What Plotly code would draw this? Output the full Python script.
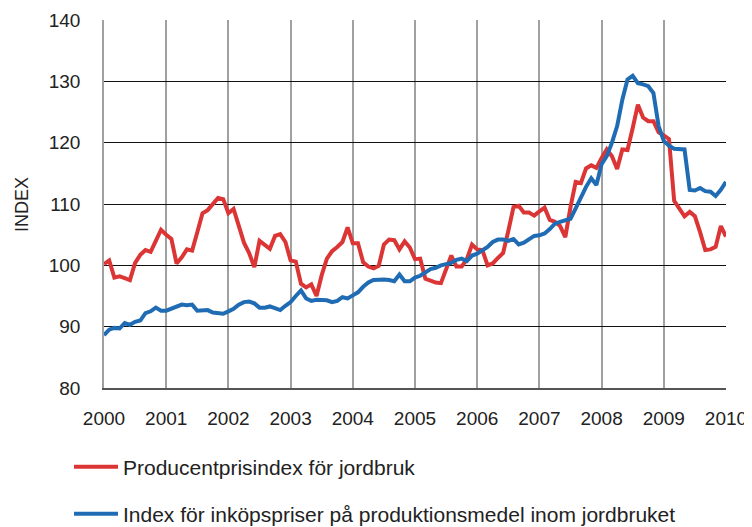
import plotly.graph_objects as go

# Monthly data, Jan 2000 .. Jan 2010
years = [2000 + i / 12 for i in range(121)]

producer_index = [
    100.2, 100.8, 98.0, 98.2, 97.9, 97.6, 100.4, 101.7, 102.5, 102.2, 104.0, 105.8,
    105.0, 104.3, 100.3, 101.3, 102.6, 102.4, 105.4, 108.5, 109.0, 110.0, 111.0, 110.8,
    108.5, 109.2, 106.4, 103.7, 102.0, 99.7, 104.0, 103.4, 102.7, 104.8, 105.1, 103.8,
    100.8, 100.6, 97.0, 96.4, 96.9, 95.0, 98.4, 101.1, 102.3, 103.0, 103.8, 106.2,
    103.6, 103.6, 100.5, 99.8, 99.5, 99.9, 103.4, 104.2, 104.1, 102.6, 103.9, 102.9,
    101.0, 101.1, 97.8, 97.5, 97.2, 97.1, 99.6, 101.6, 99.8, 99.8, 101.0, 103.4,
    102.6, 102.5, 100.0, 100.3, 101.2, 102.0, 105.6, 109.5, 109.7, 108.6, 108.6, 108.1,
    108.8, 109.4, 107.4, 107.1, 106.4, 104.6, 109.5, 113.6, 113.4, 115.8, 116.3, 115.9,
    117.5, 118.9, 117.8, 115.7, 118.9, 118.8, 122.4, 126.2, 124.1, 123.5, 123.5, 121.7,
    121.2, 120.6, 110.5, 109.3, 108.0, 108.7, 108.0, 105.4, 102.5, 102.6, 103.0, 106.4,
    104.7,
]

input_index = [
    88.6, 89.5, 89.8, 89.7, 90.6, 90.3, 90.8, 91.0, 92.2, 92.5, 93.1, 92.6,
    92.6, 92.9, 93.3, 93.6, 93.5, 93.6, 92.6, 92.6, 92.7, 92.3, 92.2, 92.1,
    92.5, 92.9, 93.6, 94.0, 94.1, 93.8, 93.1, 93.1, 93.3, 93.0, 92.7, 93.4,
    94.0, 95.0, 95.9, 94.6, 94.2, 94.4, 94.4, 94.3, 94.0, 94.2, 94.8, 94.6,
    95.1, 95.6, 96.5, 97.2, 97.6, 97.7, 97.7, 97.6, 97.4, 98.5, 97.4, 97.4,
    98.0, 98.3, 98.9, 99.4, 99.6, 100.0, 100.2, 100.4, 100.9, 101.1, 100.7, 101.6,
    101.9, 102.4, 103.0, 103.8, 104.2, 104.2, 104.0, 104.3, 103.4, 103.7, 104.3, 104.8,
    104.9, 105.2, 105.9, 106.8, 107.1, 107.4, 107.6, 109.3, 111.2, 112.8, 114.2, 113.1,
    116.5, 117.8, 120.0, 122.7, 127.0, 130.3, 130.9, 129.7, 129.5, 129.2, 128.1, 122.7,
    120.3, 119.5, 119.0, 119.0, 118.9, 112.3, 112.2, 112.6, 112.1, 112.0, 111.3, 112.3,
    113.6,
]

tick_years = list(range(2000, 2011))
tick_labels = [str(y) for y in tick_years]
y_ticks = [80, 90, 100, 110, 120, 130, 140]

name_red = "Producentprisindex för jordbruk"
name_blue = "Index för inköpspriser på produktionsmedel inom jordbruket"

FONT = "Liberation Sans, Arial, sans-serif"

# The page body adds an 8px offset, so the figure is 8px smaller on each axis
W, H = 744, 519

fig = go.Figure()
fig.add_trace(go.Scatter(x=years, y=producer_index, mode="lines", name=name_red,
                         line=dict(color="#DC3535", width=4), legend="legend"))
fig.add_trace(go.Scatter(x=years, y=input_index, mode="lines", name=name_blue,
                         line=dict(color="#1F6CB5", width=4), legend="legend2"))

fig.update_layout(
    width=W, height=H,
    margin=dict(l=96, r=26, t=12, b=139, autoexpand=False),
    paper_bgcolor="white", plot_bgcolor="white",
    font=dict(family=FONT, size=18, color="#222222"),
    showlegend=True,
    legend=dict(xref="container", yref="container", x=61 / W, y=1 - 459 / H,
                xanchor="left", yanchor="middle", bgcolor="rgba(0,0,0,0)",
                itemwidth=44, font=dict(size=21, family=FONT)),
    legend2=dict(xref="container", yref="container", x=61 / W, y=1 - 506 / H,
                 xanchor="left", yanchor="middle", bgcolor="rgba(0,0,0,0)",
                 itemwidth=44, font=dict(size=21, family=FONT)),
    annotations=[dict(text="INDEX", xref="paper", yref="paper", x=-0.132, y=0.5,
                      xanchor="center", yanchor="middle", textangle=-90,
                      showarrow=False, font=dict(size=18, family=FONT, color="#222222"))],
)

fig.update_xaxes(
    range=[2000, 2010], tickvals=tick_years, ticktext=tick_labels,
    showgrid=True, gridcolor="#A0A0A0", gridwidth=1.5,
    showline=True, linecolor="#555555", linewidth=1.5,
    ticks="", ticklabelstandoff=12, zeroline=False, automargin=False,
    tickfont=dict(size=19, family=FONT),
)
fig.update_yaxes(
    range=[80, 140], tickvals=y_ticks,
    showgrid=True, gridcolor="#111111", gridwidth=1.2,
    showline=True, linecolor="#A0A0A0", linewidth=1.5,
    ticks="", ticklabelstandoff=18, zeroline=False, automargin=False,
    tickfont=dict(size=19, family=FONT),
)

fig.write_html("out.html")
